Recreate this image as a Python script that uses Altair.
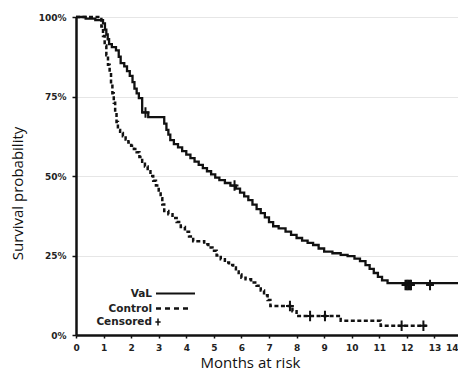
import altair as alt
import pandas as pd

# ---- data (months, survival fraction) ----
val_t = [0, 0.35, 0.7, 0.98, 1.05, 1.1, 1.15, 1.2, 1.3, 1.45, 1.55, 1.62, 1.75, 1.85, 1.95, 2.05,
         2.12, 2.2, 2.28, 2.4, 2.62, 3.2, 3.28, 3.35, 3.42, 3.55, 3.7, 3.85, 4.0, 4.15, 4.3, 4.45,
         4.6, 4.75, 4.9, 5.05, 5.2, 5.4, 5.6, 5.8, 5.95, 6.1, 6.25, 6.4, 6.55, 6.7, 6.85, 7.0,
         7.15, 7.35, 7.6, 7.8, 8.0, 8.2, 8.4, 8.6, 8.8, 9.0, 9.3, 9.6, 9.85, 10.1, 10.3, 10.5,
         10.65, 10.8, 10.95, 11.1, 11.3, 14.05]
val_s = [1.00, 0.995, 0.99, 0.98, 0.96, 0.945, 0.93, 0.915, 0.905, 0.895, 0.875, 0.855, 0.845,
         0.83, 0.815, 0.795, 0.775, 0.76, 0.745, 0.70, 0.685, 0.665, 0.645, 0.63, 0.613, 0.60,
         0.59, 0.578, 0.567, 0.556, 0.545, 0.535, 0.525, 0.515, 0.505, 0.495, 0.487, 0.478, 0.47,
         0.46, 0.448, 0.436, 0.424, 0.41, 0.396, 0.383, 0.37, 0.355, 0.342, 0.335, 0.325, 0.315,
         0.305, 0.297, 0.29, 0.283, 0.272, 0.262, 0.257, 0.252, 0.248, 0.24, 0.232, 0.22, 0.208,
         0.195, 0.183, 0.172, 0.163, 0.157]

ctl_t = [0, 0.92, 0.98, 1.04, 1.1, 1.16, 1.22, 1.27, 1.32, 1.37, 1.42, 1.47, 1.52, 1.6, 1.7,
         1.8, 1.9, 2.0, 2.1, 2.2, 2.3, 2.4, 2.5, 2.6, 2.7, 2.8, 2.9, 3.0, 3.07, 3.13, 3.2, 3.35,
         3.5, 3.65, 3.8, 3.95, 4.1, 4.25, 4.65, 4.8, 4.95, 5.1, 5.25, 5.4, 5.55, 5.7, 5.8, 5.9,
         6.0, 6.15, 6.35, 6.55, 6.7, 6.82, 6.95, 7.05, 7.85, 8.0, 9.6, 11.05, 12.72]
ctl_s = [1.00, 0.97, 0.94, 0.91, 0.88, 0.85, 0.82, 0.79, 0.76, 0.73, 0.70, 0.67, 0.645, 0.635,
         0.625, 0.615, 0.605, 0.595, 0.585, 0.575, 0.56, 0.545, 0.53, 0.515, 0.50, 0.485, 0.47,
         0.45, 0.43, 0.41, 0.39, 0.38, 0.368, 0.355, 0.34, 0.325, 0.31, 0.295, 0.285, 0.275,
         0.265, 0.25, 0.238, 0.228, 0.22, 0.212, 0.20, 0.19, 0.18, 0.175, 0.165, 0.155, 0.14,
         0.125, 0.11, 0.091, 0.075, 0.06, 0.045, 0.029, 0.029]

val_cens_t = [2.52, 5.75, 11.95, 12.0, 12.05, 12.1, 12.15, 12.84, 14.05]
val_cens_s = [0.70, 0.47, 0.157, 0.157, 0.157, 0.157, 0.157, 0.157, 0.157]
ctl_cens_t = [7.76, 8.49, 9.03, 11.81, 12.6]
ctl_cens_s = [0.091, 0.06, 0.06, 0.029, 0.029]

x_ticks = list(range(15))
y_ticks = [0, 0.25, 0.5, 0.75, 1.0]
legend_labels = ["VaL", "Control", "Censored"]

df_val = pd.DataFrame({"t": val_t, "s": val_s})
df_ctl = pd.DataFrame({"t": ctl_t, "s": ctl_s})
df_cens = pd.DataFrame({"t": val_cens_t + ctl_cens_t, "s": val_cens_s + ctl_cens_s})

PLUS = "M0,-1V1M-0.75,0H0.75"

x_axis = alt.Axis(values=x_ticks, title="Months at risk", grid=False,
                  domainColor="#111", domainWidth=2.5, tickColor="#111",
                  tickSize=3, tickWidth=1.5, labelFont="DejaVu Sans",
                  labelFontWeight="bold", labelFontSize=9, labelColor="#222",
                  labelPadding=5, labelFlush=False, labelOverlap=False,
                  labelAlign={"expr": "datum.value == 14 ? 'right' : 'center'"},
                  labelOffset={"expr": "datum.value == 14 ? -4 : 0"},
                  titleFont="Open Sans", titleFontSize=15, titleFontWeight="normal",
                  titleColor="#111", titleX=174, titleY=32,
                  titleBaseline="alphabetic", titleAlign="center")
y_axis = alt.Axis(values=y_ticks, format=".0%", title="Survival probability",
                  grid=True, gridColor="#e6e6e6", gridWidth=1,
                  domainColor="#111", domainWidth=2.5, tickColor="#111",
                  tickSize=4, tickWidth=1.5, labelFont="DejaVu Sans",
                  labelFontWeight="bold", labelFontSize=9, labelColor="#222",
                  labelPadding=6, labelFlush=False, labelOverlap=False,
                  titleFont="Open Sans", titleFontSize=15, titleFontWeight="normal",
                  titleColor="#111", titleX=-54, titleY=176, titleAngle=-90,
                  titleBaseline="alphabetic", titleAlign="center")

x_enc = alt.X("t:Q", scale=alt.Scale(domain=[0, 14], range=[0, 386], nice=False, zero=False),
              axis=x_axis)
y_enc = alt.Y("s:Q", scale=alt.Scale(domain=[0, 1], nice=False), axis=y_axis)

val_line = alt.Chart(df_val).mark_line(interpolate="step-after", color="#111",
                                       strokeWidth=2.3).encode(x=x_enc, y=y_enc)
ctl_line = alt.Chart(df_ctl).mark_line(interpolate="step-after", color="#111",
                                       strokeWidth=2.5, strokeDash=[4, 2.5]).encode(x=x_enc, y=y_enc)
cens = alt.Chart(df_cens).mark_point(shape=PLUS, size=110, filled=False, color="#111",
                                     strokeWidth=2, opacity=1).encode(x=x_enc, y=y_enc)

one = alt.Data(values=[{"k": 1}])
LX = 76   # right edge of legend labels (px in plot area)
ly = [276.5, 291.5, 305]
leg_text = [alt.Chart(one).mark_text(text=lab, align="right", baseline="middle",
                                     font="DejaVu Sans", fontWeight="bold", fontSize=10.5,
                                     color="#222").encode(x=alt.value(LX), y=alt.value(yy))
            for lab, yy in zip(legend_labels, ly)]
leg_solid = alt.Chart(one).mark_rule(color="#111", strokeWidth=2).encode(
    x=alt.value(80), x2=alt.value(119), y=alt.value(ly[0]))
leg_dash = alt.Chart(one).mark_rule(color="#111", strokeWidth=2.5, strokeDash=[5, 4]).encode(
    x=alt.value(80), x2=alt.value(116), y=alt.value(ly[1]))
leg_plus = alt.Chart(one).mark_point(shape=PLUS, size=50, filled=False, color="#111",
                                     strokeWidth=1.5, opacity=1).encode(
    x=alt.value(82), y=alt.value(ly[2]))

chart = alt.layer(val_line, ctl_line, cens, *leg_text, leg_solid, leg_dash, leg_plus).properties(
    width=382, height=318,
    autosize=alt.AutoSizeParams(type="none"),
    padding={"left": 68, "top": 9, "right": 0, "bottom": 35},
).configure_view(stroke=None, clip=False).configure(background="white")

chart.save("out.html", embed_options={"renderer": "svg", "actions": False})
